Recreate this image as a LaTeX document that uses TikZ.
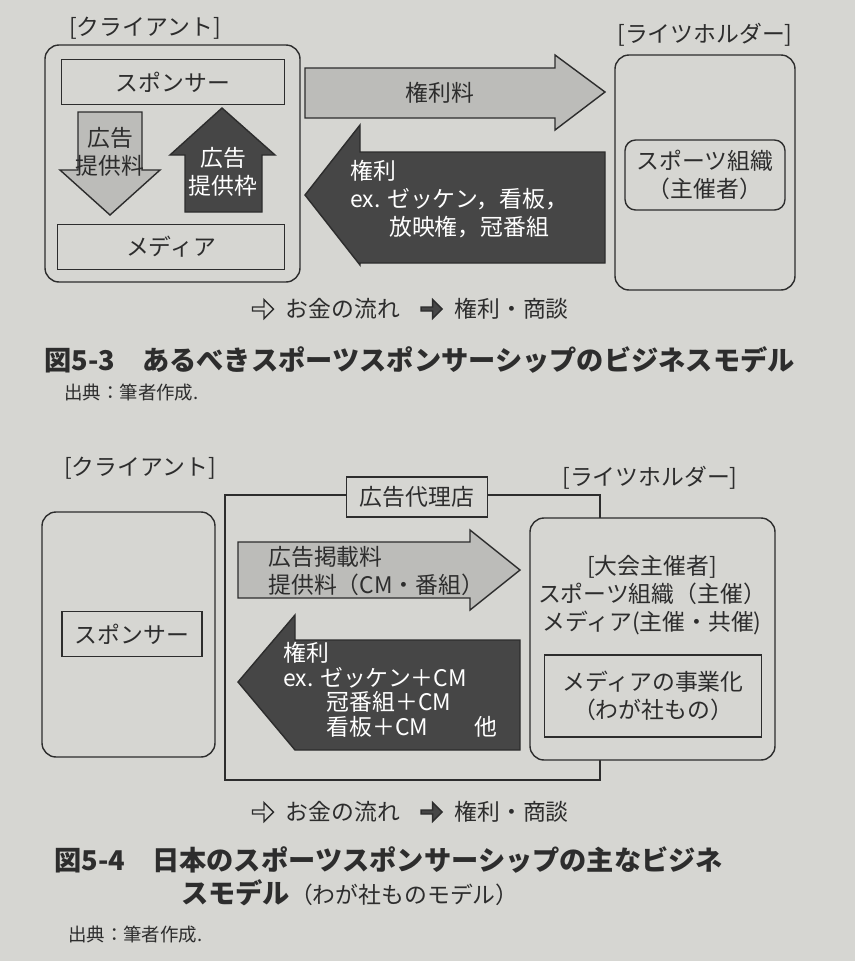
\documentclass[tikz,border=0pt]{standalone}
\usepackage{fontspec}
\setmainfont{Noto Sans CJK JP}
\usetikzlibrary{shapes.arrows, positioning}
\definecolor{paper}{RGB}{214,214,210}
\definecolor{ink}{RGB}{45,45,45}
\definecolor{lightarr}{RGB}{188,188,185}
\definecolor{darkarr}{RGB}{70,70,70}
\begin{document}
\begin{tikzpicture}[x=0.02cm, y=-0.02cm, font=\fontsize{13}{16}\selectfont, text=ink]
\tikzstyle{frame} = [draw=ink, thick, rounded corners=8pt, fill=paper]
\tikzstyle{box} = [draw=ink, thick, fill=paper]
\tikzstyle{money} = [draw=ink, thick, fill=lightarr]
\tikzstyle{rightflow} = [draw=ink, thick, fill=darkarr]
\tikzstyle{label} = [align=left, inner sep=0pt]
\tikzstyle{icon} = [single arrow, draw=ink, thick, minimum height=0.42cm, minimum width=0.38cm, single arrow head extend=1.5pt, inner sep=0pt]
\tikzstyle{caption} = [anchor=west, font=\fontsize{15.5}{18}\selectfont\bfseries]

\fill[paper] (0,0) rectangle (855,961);

% --- figure 5-3
\node (client1) at (145,28) {[クライアント]};
\draw[frame] (45,45) rectangle (300,282);
\node[box, minimum width=4.46cm, minimum height=0.9cm] (sponsor1) at (173,82) {スポンサー};
\node[box, minimum width=4.54cm, minimum height=0.9cm] (media1) at (171,247) {メディア};
\draw[money] (78,112) -- (142,112) -- (142,170) -- (160,170) -- (110,215) -- (60,170) -- (78,170) -- cycle;
\node[label, align=center] (fee1) at (110,152) {広告\\提供料};
\draw[rightflow] (222,108) -- (275,155) -- (262,155) -- (262,212) -- (185,212) -- (185,155) -- (170,155) -- cycle;
\node[label, align=center, text=white] (slot1) at (223,172) {広告\\提供枠};

\draw[money] (305,68) -- (555,68) -- (555,55) -- (605,92) -- (555,130) -- (555,118) -- (305,118) -- cycle;
\node (royalty) at (440,93) {権利料};
\draw[rightflow] (305,195) -- (360,125) -- (360,152) -- (605,152) -- (605,263) -- (360,263) -- (360,265) -- cycle;
\node[label, text=white, anchor=north west] (rights1) at (350,160) {権利\\ex. ゼッケン，看板，\\\hspace{1.7em}放映権，冠番組};

\node (holder1) at (705,35) {[ライツホルダー]};
\draw[frame] (615,55) rectangle (795,290);
\node[box, rounded corners=6pt, minimum width=3.2cm, minimum height=1.4cm, align=center] (org1) at (705,175) {スポーツ組織\\（主催者）};

\node[icon, fill=paper] (leg1a) at (262,309) {};
\node[right=3pt of leg1a] (leg1b) {お金の流れ};
\node[icon, fill=darkarr, right=8pt of leg1b] (leg1c) {};
\node[right=3pt of leg1c] (leg1d) {権利・商談};

\node[caption] (cap1) at (38,360) {図5-3\quad あるべきスポーツスポンサーシップのビジネスモデル};
\node[anchor=west, font=\fontsize{10.5}{12}\selectfont] (src1) at (58,393) {出典：筆者作成.};

% --- figure 5-4
\node (client2) at (140,468) {[クライアント]};
\draw[frame] (42,512) rectangle (215,757);
\node[box, minimum width=2.8cm, minimum height=0.9cm] (sponsor2) at (132,634) {スポンサー};

\draw[box] (225,495) rectangle (600,780);
\node[box, minimum width=2.82cm, minimum height=0.8cm] (agency) at (417,497) {広告代理店};
\node (holder2) at (650,478) {[ライツホルダー]};
\draw[frame] (530,518) rectangle (775,760);
\node[label, align=center] (host) at (652,595) {[大会主催者]\\スポーツ組織（主催）\\メディア(主催・共催)};
\node[box, minimum width=4.34cm, minimum height=1.64cm, align=center] (biz) at (653,696) {メディアの事業化\\（わが社もの）};

\draw[money] (238,542) -- (470,542) -- (470,530) -- (520,570) -- (470,610) -- (470,598) -- (238,598) -- cycle;
\node[label, anchor=north west] (fee2) at (268,546) {広告掲載料\\提供料（CM・番組）};
\draw[rightflow] (238,682) -- (295,615) -- (295,640) -- (520,640) -- (520,750) -- (295,750) -- cycle;
\node[label, text=white, anchor=north west, font=\fontsize{13}{14}\selectfont] (rights2) at (283,642) {権利\\ex. ゼッケン＋CM\\\hspace{1.9em}冠番組＋CM\\\hspace{1.9em}看板＋CM\hspace{2em}他};

\node[icon, fill=paper] (leg2a) at (262,812) {};
\node[right=3pt of leg2a] (leg2b) {お金の流れ};
\node[icon, fill=darkarr, right=8pt of leg2b] (leg2c) {};
\node[right=3pt of leg2c] (leg2d) {権利・商談};

\node[caption] (cap2) at (48,860) {図5-4\quad 日本のスポーツスポンサーシップの主なビジネ};
\node[caption] (cap2b) at (175,893) {スモデル{\normalfont\fontsize{13}{15}\selectfont（わが社ものモデル）}};
\node[anchor=west, font=\fontsize{10.5}{12}\selectfont] (src2) at (62,935) {出典：筆者作成.};
\end{tikzpicture}
\end{document}
